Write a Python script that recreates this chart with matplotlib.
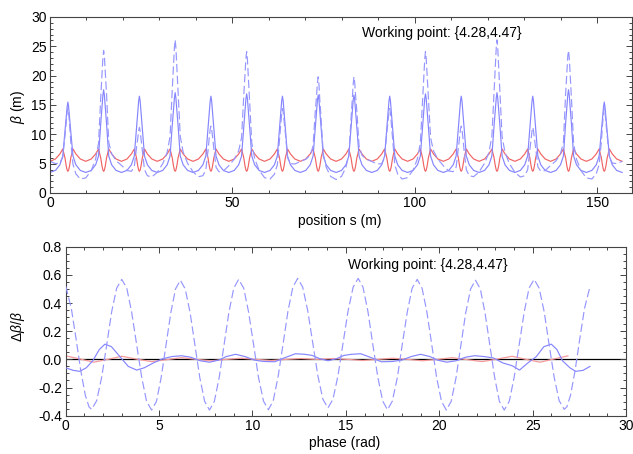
import numpy as np
import matplotlib
matplotlib.use('Agg')
import matplotlib.pyplot as plt
from matplotlib.ticker import MultipleLocator, FormatStrFormatter

plt.rcParams['font.family'] = ['Liberation Sans', 'DejaVu Sans']
plt.rcParams['mathtext.fontset'] = 'custom'
plt.rcParams['mathtext.rm'] = 'Liberation Sans'
plt.rcParams['mathtext.it'] = 'Liberation Sans:italic'

# ---------------- top panel: beta functions vs position ----------------
cell_peaks_s = [4.9, 14.7, 24.5, 34.3, 44.1, 53.9, 63.7, 73.5,
                83.3, 93.1, 102.9, 112.7, 122.5, 132.3, 142.1, 151.9]
cell_offsets = [-4.9, -3.4, -2.2, -1.4, -0.8, -0.45, -0.2, 0.0,
                0.2, 0.45, 0.8, 1.4, 2.2, 3.4]
s_end = 156.8

# horizontal beta (red) - identical in every cell
beta_x_cell = [5.4, 5.8, 6.65, 7.5, 6.0, 4.6, 3.9, 3.7, 3.9, 4.6, 6.0, 7.5, 6.65, 5.8]
beta_x_end = 5.4

# vertical beta (blue solid), one list per cell
beta_y_cells = [
    [3.5, 3.85, 4.8, 6.3, 10.4, 12.9, 14.7, 15.5, 14.7, 12.9, 10.4, 6.3, 4.8, 3.85],
    [3.5, 3.85, 4.8, 6.3, 11.8, 14.6, 16.7, 17.6, 16.7, 14.6, 11.8, 6.3, 4.8, 3.85],
    [3.5, 3.85, 4.8, 6.3, 11.1, 13.7, 15.7, 16.5, 15.7, 13.7, 11.1, 6.3, 4.8, 3.85],
    [3.5, 3.85, 4.8, 6.3, 11.5, 14.2, 16.2, 17.1, 16.2, 14.2, 11.5, 6.3, 4.8, 3.85],
    [3.5, 3.85, 4.8, 6.3, 11.1, 13.7, 15.7, 16.5, 15.7, 13.7, 11.1, 6.3, 4.8, 3.85],
    [3.5, 3.85, 4.8, 6.3, 11.3, 14.0, 16.1, 16.9, 16.1, 14.0, 11.3, 6.3, 4.8, 3.85],
    [3.5, 3.85, 4.8, 6.3, 11.1, 13.7, 15.7, 16.5, 15.7, 13.7, 11.1, 6.3, 4.8, 3.85],
    [3.5, 3.85, 4.8, 6.3, 11.2, 13.9, 15.9, 16.7, 15.9, 13.9, 11.2, 6.3, 4.8, 3.85],
    [3.5, 3.85, 4.8, 6.3, 11.2, 13.9, 15.9, 16.7, 15.9, 13.9, 11.2, 6.3, 4.8, 3.85],
    [3.5, 3.85, 4.8, 6.3, 11.1, 13.7, 15.7, 16.5, 15.7, 13.7, 11.1, 6.3, 4.8, 3.85],
    [3.5, 3.85, 4.8, 6.3, 11.3, 14.0, 16.1, 16.9, 16.1, 14.0, 11.3, 6.3, 4.8, 3.85],
    [3.5, 3.85, 4.8, 6.3, 11.1, 13.7, 15.7, 16.5, 15.7, 13.7, 11.1, 6.3, 4.8, 3.85],
    [3.5, 3.85, 4.8, 6.3, 11.5, 14.2, 16.2, 17.1, 16.2, 14.2, 11.5, 6.3, 4.8, 3.85],
    [3.5, 3.85, 4.8, 6.3, 11.1, 13.7, 15.7, 16.5, 15.7, 13.7, 11.1, 6.3, 4.8, 3.85],
    [3.5, 3.85, 4.8, 6.3, 11.8, 14.6, 16.7, 17.6, 16.7, 14.6, 11.8, 6.3, 4.8, 3.85],
    [3.5, 3.85, 4.8, 6.3, 10.4, 12.9, 14.7, 15.5, 14.7, 12.9, 10.4, 6.3, 4.8, 3.85],
]
beta_y_end = 3.5

# perturbed vertical beta (blue dashed), one list per cell
beta_yp_cells = [
    [5.40, 5.01, 5.10, 6.13, 9.71, 12.0, 13.8, 14.5, 13.7, 11.9, 8.67, 4.89, 3.26, 2.39],
    [2.57, 3.82, 5.76, 8.44, 16.2, 20.2, 23.1, 24.3, 23.3, 20.5, 16.8, 8.6, 6.7, 5.5],
    [4.70, 3.83, 3.70, 4.48, 7.68, 9.30, 10.65, 11.2, 10.6, 9.2, 7.24, 3.96, 2.94, 2.73],
    [3.53, 5.00, 6.90, 9.60, 17.6, 21.7, 24.8, 26.1, 24.8, 21.7, 17.5, 9.63, 6.95, 5.07],
    [3.60, 2.78, 2.95, 3.94, 7.17, 9.47, 10.83, 11.4, 10.9, 9.6, 7.58, 4.40, 3.63, 3.75],
    [4.64, 5.77, 7.17, 9.43, 16.6, 20.2, 23.0, 24.1, 22.8, 19.8, 15.8, 8.54, 5.85, 3.89],
    [2.62, 2.38, 3.21, 4.79, 9.07, 11.8, 13.6, 14.4, 13.8, 12.3, 10.2, 6.00, 5.00, 4.94],
    [5.37, 5.75, 6.43, 8.02, 13.9, 16.6, 18.9, 19.8, 18.6, 15.8, 12.6, 6.63, 4.37, 2.83],
    [2.30, 2.83, 4.37, 6.63, 12.6, 15.8, 18.6, 19.8, 18.9, 16.6, 13.9, 8.02, 6.43, 5.75],
    [5.37, 4.94, 5.00, 6.00, 10.2, 12.3, 13.8, 14.4, 13.6, 11.8, 9.07, 4.79, 3.21, 2.38],
    [2.62, 3.89, 5.85, 8.54, 15.8, 19.8, 22.8, 24.1, 23.0, 20.2, 16.6, 9.43, 7.17, 5.77],
    [4.64, 3.75, 3.63, 4.40, 7.58, 9.6, 10.9, 11.4, 10.83, 9.47, 7.17, 3.94, 2.95, 2.78],
    [3.60, 5.07, 6.95, 9.63, 17.5, 21.7, 24.8, 26.1, 24.8, 21.7, 17.6, 9.60, 6.90, 5.00],
    [3.53, 2.73, 2.94, 3.96, 7.24, 9.2, 10.6, 11.2, 10.65, 9.30, 7.68, 4.48, 3.70, 3.83],
    [4.70, 5.5, 6.7, 8.6, 16.8, 20.5, 23.3, 24.3, 23.1, 20.2, 16.2, 8.44, 5.76, 3.82],
    [2.57, 2.39, 3.26, 4.89, 8.67, 11.9, 13.7, 14.5, 13.8, 12.0, 9.71, 6.13, 5.10, 5.01],
]
beta_yp_end = 5.40

# ---------------- bottom panel: beta beating vs phase ----------------
phase_x = [0.0, 0.75, 1.5, 2.25, 3.0, 3.8, 4.6, 5.4, 6.2, 7.0, 7.8, 8.6, 9.4, 10.2,
           11.0, 11.8, 12.6, 13.45, 14.3, 15.1, 15.9, 16.7, 17.5, 18.3, 19.1, 19.9,
           20.7, 21.5, 22.3, 23.1, 23.9, 24.65, 25.4, 26.15, 26.89]
dbeta_x = [0.025, 0.003, -0.02, 0.0, 0.022, 0.002, -0.016, -0.002, 0.012, 0.0, -0.01, 0.0,
           0.008, 0.0, -0.008, 0.0, 0.006, 0.0, 0.006, 0.0, -0.008, 0.0, 0.008, 0.0,
           -0.01, 0.0, 0.012, -0.002, -0.016, 0.002, 0.022, 0.0, -0.02, 0.003, 0.025]

phase_y = [0.0, 0.4, 0.75, 1.1, 1.45, 1.8, 2.1, 2.45, 2.9, 3.35, 3.8, 4.2, 4.7, 5.2,
           5.7, 6.2, 6.7, 7.2, 7.7, 8.2, 8.6, 9.1, 9.6, 10.1, 10.6, 11.2, 11.7, 12.3,
           12.8, 13.2, 13.6, 14.05, 14.5, 14.9, 15.3, 15.8, 16.4, 16.9, 17.5, 18.0,
           18.5, 19.0, 19.5, 19.9, 20.4, 20.9, 21.4, 21.9, 22.4, 22.9, 23.4, 23.9,
           24.3, 24.7, 25.2, 25.6, 26.0, 26.3, 26.6, 27.0, 27.3, 27.7, 28.07]
dbeta_y = [-0.06, -0.078, -0.085, -0.06, -0.01, 0.07, 0.108, 0.09, 0.02, -0.05, -0.076,
           -0.06, -0.025, 0.005, 0.02, 0.026, 0.015, -0.01, -0.02, -0.005, 0.02, 0.036,
           0.02, -0.005, -0.015, -0.017, 0.01, 0.04, 0.036, 0.028, 0.005, -0.01, 0.005,
           0.028, 0.036, 0.04, 0.01, -0.017, -0.015, -0.005, 0.02, 0.036, 0.02, -0.005,
           -0.02, -0.01, 0.015, 0.026, 0.02, 0.01, -0.025, -0.045, -0.076, -0.03, 0.02,
           0.09, 0.108, 0.07, -0.01, -0.06, -0.085, -0.078, -0.05]

phase_yp = [0.0, 0.3, 0.55, 0.8, 1.05, 1.25, 1.39,
            1.66, 1.93, 2.20, 2.46, 2.73, 3.00,
            3.27, 3.53, 3.80, 4.07, 4.33, 4.60,
            4.86, 5.11, 5.37, 5.63, 5.88, 6.14,
            6.40, 6.66, 6.92, 7.18, 7.44, 7.70,
            7.96, 8.22, 8.48, 8.74, 9.00, 9.26,
            9.53, 9.79, 10.06, 10.32, 10.59, 10.85,
            11.11, 11.37, 11.64, 11.90, 12.16, 12.42,
            12.69, 12.96, 13.23, 13.50, 13.77, 14.04,
            14.31, 14.58, 14.85, 15.12, 15.39, 15.66,
            15.92, 16.18, 16.44, 16.71, 16.97, 17.23,
            17.49, 17.76, 18.02, 18.29, 18.55, 18.82,
            19.08, 19.34, 19.60, 19.86, 20.12, 20.38,
            20.64, 20.90, 21.16, 21.42, 21.68, 21.94,
            22.20, 22.45, 22.71, 22.97, 23.22, 23.48,
            23.75, 24.01, 24.28, 24.55, 24.81, 25.08,
            25.35, 25.62, 25.88, 26.15, 26.42, 26.69,
            26.83, 27.03, 27.28, 27.53, 27.78, 28.08]
dbeta_yp = [0.52, 0.363, 0.150, -0.074, -0.255, -0.338, -0.355,
            -0.293, -0.124, 0.107, 0.337, 0.506, 0.568,
            0.506, 0.336, 0.104, -0.128, -0.298, -0.360,
            -0.298, -0.130, 0.101, 0.332, 0.500, 0.562,
            0.500, 0.332, 0.101, -0.130, -0.298, -0.360,
            -0.298, -0.128, 0.104, 0.336, 0.506, 0.568,
            0.506, 0.337, 0.105, -0.127, -0.296, -0.358,
            -0.295, -0.125, 0.109, 0.342, 0.512, 0.575,
            0.513, 0.345, 0.115, -0.115, -0.283, -0.345,
            -0.283, -0.115, 0.115, 0.345, 0.513, 0.575,
            0.512, 0.342, 0.109, -0.125, -0.295, -0.358,
            -0.296, -0.127, 0.105, 0.337, 0.506, 0.568,
            0.506, 0.336, 0.104, -0.128, -0.298, -0.360,
            -0.298, -0.130, 0.101, 0.332, 0.500, 0.562,
            0.500, 0.332, 0.101, -0.130, -0.298, -0.360,
            -0.298, -0.128, 0.104, 0.336, 0.506, 0.568,
            0.506, 0.337, 0.107, -0.124, -0.293, -0.355,
            -0.338, -0.255, -0.074, 0.150, 0.363, 0.52]

working_point = "Working point: {4.28,4.47}"

# ---------------- assemble the top-panel sample positions ----------------
s = np.concatenate([np.array(cell_offsets) + p for p in cell_peaks_s] + [[s_end]])
beta_x = np.concatenate([beta_x_cell] * len(cell_peaks_s) + [[beta_x_end]])
beta_y = np.concatenate([np.array(c) for c in beta_y_cells] + [[beta_y_end]])
beta_yp = np.concatenate([np.array(c) for c in beta_yp_cells] + [[beta_yp_end]])

RED = '#f06464'
RED_LIGHT = '#f59a9a'
BLUE = '#8585ff'
BLUE_D = '#9696ff'
FRAME = '#444444'
DASH = (0, (7, 3))

fig = plt.figure(figsize=(6.33, 4.54), dpi=100)
W, H = 633.0, 454.0
ax1 = fig.add_axes([50 / W, 1 - 193 / H, (632 - 50) / W, (193 - 17) / H])
ax2 = fig.add_axes([65.7 / W, 1 - 415.7 / H, (626 - 65.7) / W, (415.7 - 246.7) / H])


def style(ax):
    for sp in ax.spines.values():
        sp.set_color(FRAME)
        sp.set_linewidth(0.8)
    ax.tick_params(which='both', direction='in', top=True, right=True,
                   color=FRAME, width=0.7, labelsize=10, pad=2.5)
    ax.tick_params(which='major', length=4.5)
    ax.tick_params(which='minor', length=2.2)


ax1.plot(s, beta_x, color=RED, lw=0.85)
ax1.plot(s, beta_y, color=BLUE, lw=0.85)
ax1.plot(s, beta_yp, color=BLUE_D, lw=0.85, ls=DASH)
ax1.set_xlim(0, 159.5)
ax1.set_ylim(0, 30)
ax1.xaxis.set_major_locator(MultipleLocator(50))
ax1.xaxis.set_minor_locator(MultipleLocator(10))
ax1.yaxis.set_major_locator(MultipleLocator(5))
ax1.yaxis.set_minor_locator(MultipleLocator(1))
style(ax1)
ax1.text(85.5, 27.2, working_point, fontsize=10, ha='left', va='center')
ax1.text(0.498, -0.16, 'position s (m)', transform=ax1.transAxes,
         ha='center', va='center', fontsize=10)
ax1.text(-0.055, 0.49, r'$\beta$ (m)', transform=ax1.transAxes,
         ha='center', va='center', rotation=90, fontsize=10)

ax2.axhline(0, color='black', lw=0.9, zorder=1)
ax2.plot(phase_x, dbeta_x, color=RED_LIGHT, lw=0.9, zorder=2)
ax2.plot(phase_y, dbeta_y, color=BLUE, lw=0.85, zorder=3)
ax2.plot(phase_yp, dbeta_yp, color=BLUE_D, lw=0.85, ls=DASH, zorder=3)
ax2.set_xlim(0, 30)
ax2.set_ylim(-0.4, 0.8)
ax2.xaxis.set_major_locator(MultipleLocator(5))
ax2.xaxis.set_minor_locator(MultipleLocator(1))
ax2.yaxis.set_major_locator(MultipleLocator(0.2))
ax2.yaxis.set_minor_locator(MultipleLocator(0.05))
ax2.yaxis.set_major_formatter(FormatStrFormatter('%.1f'))
style(ax2)
ax2.text(15.1, 0.67, working_point, fontsize=10, ha='left', va='center')
ax2.text(0.4985, -0.162, 'phase (rad)', transform=ax2.transAxes,
         ha='center', va='center', fontsize=10)
ax2.text(-0.085, 0.527, r'$\Delta\beta/\beta$', transform=ax2.transAxes,
         ha='center', va='center', rotation=90, fontsize=10)

fig.savefig('out.png', dpi=100)
